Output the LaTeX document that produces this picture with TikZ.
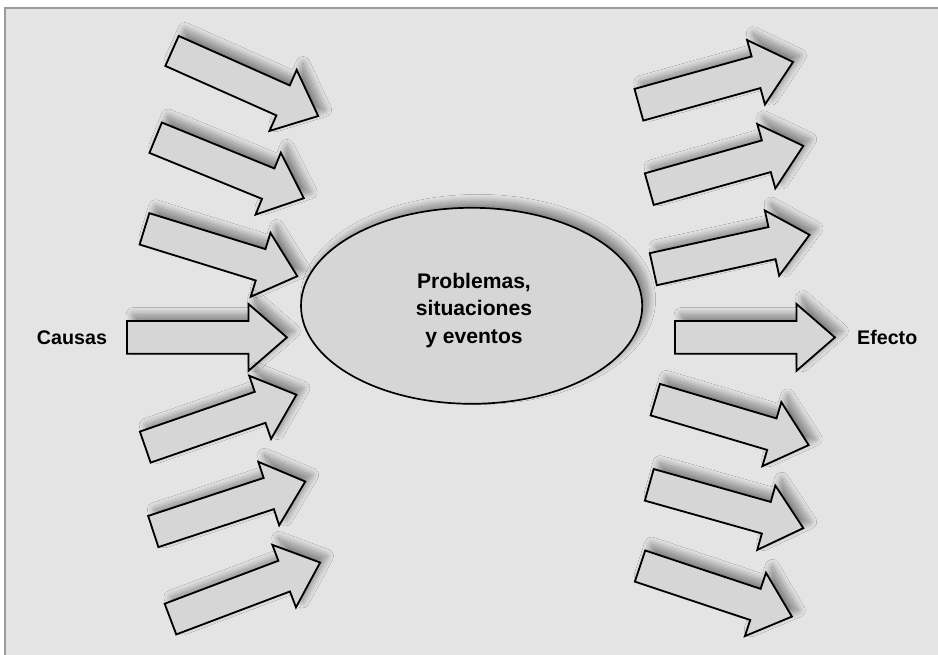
\documentclass[tikz,border=0pt]{standalone}
\usepackage{fontspec}
\setmainfont{Liberation Sans}
\usetikzlibrary{shapes.arrows,shapes.geometric,shadows.blur}

\definecolor{panelgray}{HTML}{E4E4E4}
\definecolor{shapegray}{HTML}{D6D6D6}
\definecolor{framegray}{HTML}{9C9C9C}

\begin{document}
\begin{tikzpicture}[
    soft shadow/.style={
        blur shadow={shadow xshift=4.5pt, shadow yshift=4.5pt,
                     shadow blur radius=5pt, shadow blur steps=20,
                     shadow opacity=42}
    },
    block arrow/.style={
        single arrow,
        draw=black,
        line width=1.3pt,
        fill=shapegray,
        anchor=tail,
        minimum height=4cm,
        text height=0.775cm,
        text depth=0pt,
        inner sep=0pt,
        single arrow head extend=0.425cm,
        single arrow tip angle=82,
        soft shadow
    },
    side label/.style={
        font=\bfseries\fontsize{14}{17}\selectfont
    }
]

% Panel
\useasboundingbox (0,0) rectangle (23.45,16.375);
\fill[panelgray] (0.125,0) rectangle (23.45,16.18);
\draw[framegray, line width=1.5pt] (0.125,0) -- (0.125,16.18) -- (23.45,16.18);

% Central ellipse
\node[ellipse, draw=black, line width=1.2pt, fill=shapegray,
      minimum width=8.53cm, minimum height=4.9cm, inner sep=0pt,
      soft shadow]
      (core) at (11.79,8.73) {};
\node[align=center, font=\bfseries\fontsize{15}{19.5}\selectfont]
      (coretext) at (11.85,8.62) {Problemas,\\situaciones\\y eventos};

% Causes (left), placed by their tails
\node[block arrow, rotate=-24.0] (c1) at (4.28,15.11) {};
\node[block arrow, rotate=-22.2] (c2) at (3.87,12.94) {};
\node[block arrow, rotate=-17.2] (c3) at (3.59,10.66) {};
\node[block arrow]               (c4) at (3.15,7.94) {};
\node[block arrow, rotate=19.1]  (c5) at (3.61,5.19) {};
\node[block arrow, rotate=18.2]  (c6) at (3.81,3.08) {};
\node[block arrow, rotate=20.7]  (c7) at (4.24,0.89) {};

% Effects (right)
\node[block arrow, rotate=15.5]  (e1) at (15.95,13.75) {};
\node[block arrow, rotate=15.7]  (e2) at (16.21,11.64) {};
\node[block arrow, rotate=12.4]  (e3) at (16.31,9.64) {};
\node[block arrow]               (e4) at (16.85,7.94) {};
\node[block arrow, rotate=-16.5] (e5) at (16.36,6.39) {};
\node[block arrow, rotate=-15.7] (e6) at (16.21,4.26) {};
\node[block arrow, rotate=-18.4] (e7) at (15.98,2.23) {};

% Side labels
\node[side label] (causas) at (1.8,7.92) {Causas};
\node[side label] (efecto) at (22.18,7.93) {Efecto};

\end{tikzpicture}
\end{document}
